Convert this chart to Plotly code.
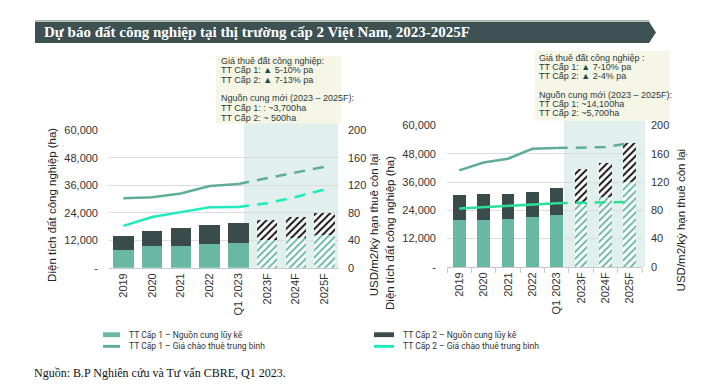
import plotly.graph_objects as go

# ---------------- data ----------------
categories = ["2019", "2020", "2021", "2022", "Q1 2023", "2023F", "2024F", "2025F"]
forecast_flags = [0, 0, 0, 0, 0, 1, 1, 1]

# Left panel
left_t1_supply = [8000, 9500, 9600, 10400, 10900, 12000, 13100, 14500]
left_t2_supply = [5700, 6700, 7900, 8400, 8600, 8800, 9200, 9400]
left_t1_rent = [101, 102.5, 108, 119, 122, 130, 138, 147]
left_t2_rent = [61, 74, 81, 88, 88.5, 94, 103, 114]

# Right panel
right_t1_supply = [19700, 20000, 20300, 21000, 21900, 26800, 29500, 36000]
right_t2_supply = [11000, 10800, 10700, 10600, 11500, 14700, 14700, 16700]
right_t1_rent = [136.5, 147.5, 153, 167, 168, 169, 169.5, 175]
right_t2_rent = [82.5, 84.5, 86.5, 88, 90, 90.5, 91, 92]

area_ticks = [0, 12000, 24000, 36000, 48000, 60000]
area_ticktext = ["-", "12,000", "24,000", "36,000", "48,000", "60,000"]
rent_ticks = [0, 40, 80, 120, 160, 200]

title_text = "Dự báo đất công nghiệp tại thị trường cấp 2 Việt Nam, 2023-2025F"
source_text = "Nguồn: B.P Nghiên cứu và Tư vấn CBRE, Q1 2023."
area_title = "Diện tích đất công nghiệp (ha)"
rent_title = "USD/m2/kỳ hạn thuê còn lại"
legend_labels = ["TT Cấp 1 – Nguồn cung lũy kế", "TT Cấp 1 – Giá chào thuê trung bình",
                 "TT Cấp 2 – Nguồn cung lũy kế", "TT Cấp 2 – Giá chào thuê trung bình"]
left_box = ["Giá thuê đất công nghiệp:",
            "TT Cấp 1: <span style='color:#1d4a44'>▲</span> 5-10% pa",
            "TT Cấp 2: <span style='color:#1d4a44'>▲</span> 7-13% pa",
            "Nguồn cung mới (2023 – 2025F):",
            "TT Cấp 1: : ~3,700ha",
            "TT Cấp 2: ~ 500ha"]
right_box = ["Giá thuê đất công nghiệp :",
             "TT Cấp 1: <span style='color:#1d4a44'>▲</span> 7-10% pa",
             "TT Cấp 2: <span style='color:#1d4a44'>▲</span> 2-4% pa",
             "Nguồn cung mới (2023 – 2025F):",
             "TT Cấp 1: ~14,100ha",
             "TT Cấp 2: ~5,700ha"]

# ---------------- styles ----------------
W, H = 717, 386
C_T1 = "#69b8a4"
C_T2 = "#3a4b4c"
C_L1 = "#5fac99"
C_L2_LEFT = "#1eeabf"
C_L2_RIGHT = "#2bdf98"
C_SHADE = "#e1f0ec"
C_BOX = "#f6f6e7"
FONT = "Liberation Sans, Arial, sans-serif"
TICK_COLOR = "#333333"


def px(x):
    return x / W


def py(y):
    return 1 - y / H


fig = go.Figure()


def add_panel(xa, ya, ya2, t1, t2, r1, r2, bar_w, l2color):
    shapes_t = ["/" if f else "" for f in forecast_flags]
    fig.add_trace(go.Bar(x=categories, y=t1, xaxis=xa, yaxis=ya, width=bar_w,
                         marker=dict(color=C_T1, line=dict(width=0),
                                     pattern=dict(shape=shapes_t, fgcolor=C_T1, bgcolor="white",
                                                  size=5, solidity=0.4, fillmode="replace")),
                         showlegend=False))
    fig.add_trace(go.Bar(x=categories, y=t2, xaxis=xa, yaxis=ya, width=bar_w,
                         marker=dict(color=C_T2, line=dict(width=0),
                                     pattern=dict(shape=shapes_t, fgcolor="#111111", bgcolor="white",
                                                  size=5, solidity=0.4, fillmode="replace")),
                         showlegend=False))
    for vals, col in ((r1, C_L1), (r2, l2color)):
        fig.add_trace(go.Scatter(x=categories[:5], y=vals[:5], xaxis=xa, yaxis=ya2, mode="lines",
                                 line=dict(color=col, width=2.5), showlegend=False))
        fig.add_trace(go.Scatter(x=categories[4:], y=vals[4:], xaxis=xa, yaxis=ya2, mode="lines",
                                 line=dict(color=col, width=2.5, dash="11px,8px"), showlegend=False))


add_panel("x", "y", "y2", left_t1_supply, left_t2_supply, left_t1_rent, left_t2_rent, 0.72, C_L2_LEFT)
add_panel("x3", "y3", "y4", right_t1_supply, right_t2_supply, right_t1_rent, right_t2_rent, 0.52, C_L2_RIGHT)

tickfont = dict(family=FONT, size=11, color=TICK_COLOR)

xaxis_common = dict(type="category", tickangle=-90, tickfont=tickfont, showgrid=False,
                    showline=True, linecolor="#c8c8c8", linewidth=1, zeroline=False,
                    fixedrange=True)
fig.update_layout(
    width=W, height=H, autosize=False,
    margin=dict(l=0, r=0, t=0, b=0),
    paper_bgcolor="white", plot_bgcolor="rgba(0,0,0,0)",
    barmode="stack", bargap=0.28, showlegend=False,
    xaxis=dict(domain=[px(101), px(331)], anchor="y", ticks="", **xaxis_common),
    yaxis=dict(domain=[py(262), py(120)], range=[0, 60000], tickvals=area_ticks, ticktext=area_ticktext,
               tickfont=tickfont, showgrid=True, gridcolor="#dcdcdc", gridwidth=1, zeroline=False,
               ticklabelstandoff=10, anchor="x"),
    yaxis2=dict(domain=[py(262), py(120)], range=[0, 200], tickvals=rent_ticks, overlaying="y",
                side="right", anchor="x", tickfont=tickfont, showgrid=False, zeroline=False,
                ticklabelstandoff=8),
    xaxis3=dict(domain=[px(439), px(634)], anchor="y3", ticks="outside", tickson="boundaries",
                ticklen=5, tickcolor="#c8c8c8", **xaxis_common),
    yaxis3=dict(domain=[py(261), py(115)], range=[0, 60000], tickvals=area_ticks, ticktext=area_ticktext,
                tickfont=tickfont, showgrid=True, gridcolor="#dcdcdc", gridwidth=1, zeroline=False,
                ticklabelstandoff=10, anchor="x3"),
    yaxis4=dict(domain=[py(261), py(115)], range=[0, 200], tickvals=rent_ticks, overlaying="y3",
                side="right", anchor="x3", tickfont=tickfont, showgrid=False, zeroline=False,
                ticklabelstandoff=8),
)

shapes = []
annotations = []

# shaded forecast regions
shapes.append(dict(type="rect", xref="paper", yref="paper", x0=px(236), x1=px(330), y0=py(262), y1=py(112),
                   fillcolor=C_SHADE, line=dict(width=0), layer="below"))
shapes.append(dict(type="rect", xref="paper", yref="paper", x0=px(556), x1=px(637), y0=py(261), y1=py(110),
                   fillcolor=C_SHADE, line=dict(width=0), layer="below"))

# title banner
path = "M {},{} L {},{} L {},{} L {},{} L {},{} Z".format(
    px(27), py(8), px(641), py(8), px(648), py(19), px(641), py(30), px(27), py(30))
shapes.append(dict(type="path", xref="paper", yref="paper", path=path, fillcolor="#3d5052",
                   line=dict(width=0), layer="above"))
shapes.append(dict(type="line", xref="paper", yref="paper", x0=px(27), x1=px(641), y0=py(7), y1=py(7),
                   line=dict(color="#a9b2b2", width=1.5)))
annotations.append(dict(xref="paper", yref="paper", x=px(34), y=py(19), xanchor="left", yanchor="middle",
                        text="<b>" + title_text + "</b>", showarrow=False,
                        font=dict(family="Liberation Serif, Times New Roman, serif", size=15, color="white")))

# info boxes
shapes.append(dict(type="rect", xref="paper", yref="paper", x0=px(208), x1=px(333), y0=py(113), y1=py(43),
                   fillcolor=C_BOX, line=dict(width=0), layer="above"))
shapes.append(dict(type="rect", xref="paper", yref="paper", x0=px(527), x1=px(662), y0=py(110), y1=py(38),
                   fillcolor=C_BOX, line=dict(width=0), layer="above"))
box_font = dict(family=FONT, size=9, color="#2b3a3a")
for lines, x0, ys in ((left_box, 211, [48, 58, 68, 87, 97, 107]),
                      (right_box, 529, [45, 54.5, 63.5, 84, 93, 102])):
    for txt, yy in zip(lines, ys):
        annotations.append(dict(xref="paper", yref="paper", x=px(x0), y=py(yy), xanchor="left",
                                yanchor="middle", text=txt, showarrow=False, font=box_font))

# axis titles
title_font = dict(family=FONT, size=11.5, color="#222222")
for x, y, txt in ((44, 197, area_title), (366, 218, rent_title), (382, 226, area_title), (673, 213, rent_title)):
    annotations.append(dict(xref="paper", yref="paper", x=px(x), y=py(y), xanchor="center", yanchor="middle",
                            text=txt, textangle=-90, showarrow=False, font=title_font))

# legend
leg_font = dict(family="Roboto, sans-serif", size=8.5, color="#333333")
leg_items = [(95, 112, 331, C_T1, 5, legend_labels[0], 119),
             (95, 112, 343, C_L1, 3, legend_labels[1], 119),
             (366, 386, 331, C_T2, 5, legend_labels[2], 393),
             (366, 386, 343, C_L2_LEFT, 3, legend_labels[3], 393)]
for x0, x1, yy, col, th, lab, tx in leg_items:
    shapes.append(dict(type="rect", xref="paper", yref="paper", x0=px(x0), x1=px(x1),
                       y0=py(yy + th / 2), y1=py(yy - th / 2), fillcolor=col, line=dict(width=0)))
    annotations.append(dict(xref="paper", yref="paper", x=px(tx), y=py(yy), xanchor="left", yanchor="middle",
                            text=lab, showarrow=False, font=leg_font))

# source
annotations.append(dict(xref="paper", yref="paper", x=px(24), y=py(371), xanchor="left", yanchor="middle",
                        text=source_text, showarrow=False,
                        font=dict(family="Liberation Serif, Times New Roman, serif", size=12, color="#111111")))

fig.update_layout(shapes=shapes, annotations=annotations)
fig.write_html("out.html")
